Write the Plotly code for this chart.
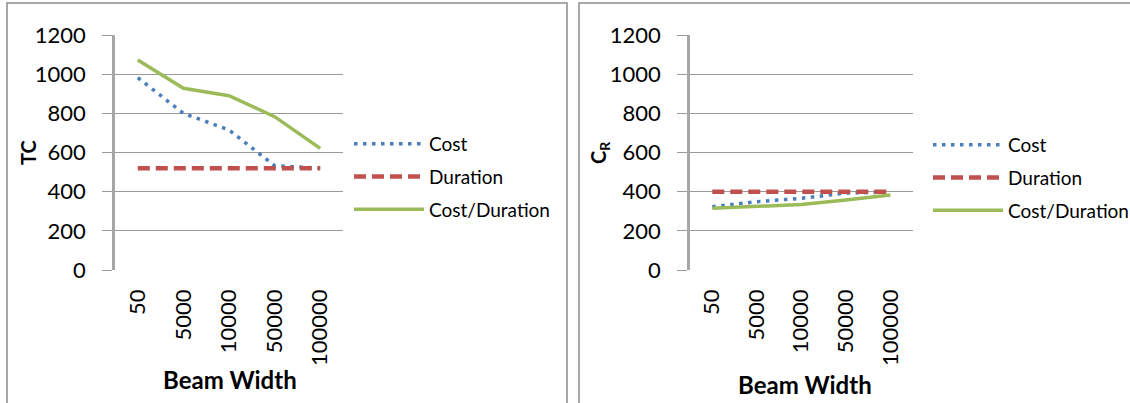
import plotly.graph_objects as go

categories = ["50", "5000", "10000", "50000", "100000"]
series_names = ["Cost", "Duration", "Cost/Duration"]

tc_cost = [982, 800, 715, 533, 520]
tc_duration = [520, 520, 520, 520, 520]
tc_cost_duration = [1072, 928, 890, 783, 621]

cr_cost = [323, 349, 366, 393, 398]
cr_duration = [400, 400, 400, 400, 400]
cr_cost_duration = [315, 327, 335, 357, 383]

y_ticks = [0, 200, 400, 600, 800, 1000, 1200]

W, H = 1130, 403
FONT = "Lato"
colors = ["#4a7ebb", "#c0504d", "#9bbb59"]
dashes = ["3.5px,5.5px", "12px,6px", "solid"]
widths = [3.5, 4.5, 3.5]

fig = go.Figure()

left = [tc_cost, tc_duration, tc_cost_duration]
right = [cr_cost, cr_duration, cr_cost_duration]
for i, (name, vals) in enumerate(zip(series_names, left)):
    fig.add_trace(go.Scatter(x=categories, y=vals, name=name, mode="lines",
                             line=dict(color=colors[i], dash=dashes[i], width=widths[i]),
                             xaxis="x", yaxis="y", legend="legend", legendgroup="L%d" % i))
for i, (name, vals) in enumerate(zip(series_names, right)):
    fig.add_trace(go.Scatter(x=categories, y=vals, name=name, mode="lines",
                             line=dict(color=colors[i], dash=dashes[i], width=widths[i]),
                             xaxis="x2", yaxis="y2", legend="legend2", legendgroup="R%d" % i))

ydom = [(H - 270) / H, (H - 35) / H]
xax = dict(type="category", range=[-0.5, 4.5], showgrid=False, zeroline=False, automargin=False,
           showline=False, ticks="", tickangle=-90, ticklabelstandoff=14,
           tickfont=dict(family=FONT, size=22, color="#000"))
yax = dict(range=[0, 1200], tickvals=y_ticks, showgrid=True, gridcolor="#9a9a9a", automargin=False,
           gridwidth=1, zeroline=False, showline=True, linecolor="#a6a6a6", linewidth=2.5,
           ticks="outside", ticklen=10, tickcolor="#9a9a9a", tickwidth=1,
           ticklabelstandoff=12, tickfont=dict(family=FONT, size=22, color="#000"))

legend_common = dict(font=dict(family=FONT, size=19, color="#000"), bgcolor="rgba(0,0,0,0)",
                     xanchor="left", yanchor="top", tracegroupgap=5, itemwidth=70)

fig.update_layout(
    template="none",
    width=W, height=H,
    margin=dict(l=0, r=0, t=0, b=0, autoexpand=False),
    paper_bgcolor="white", plot_bgcolor="white",
    xaxis=dict(domain=[115 / W, 343 / W], anchor="y", **xax),
    yaxis=dict(domain=ydom, anchor="x", **yax),
    xaxis2=dict(domain=[690 / W, 912.7 / W], anchor="y2", **xax),
    yaxis2=dict(domain=ydom, anchor="x2", **yax),
    legend=dict(x=349 / W, y=(H - 125) / H, **legend_common),
    legend2=dict(x=928 / W, y=(H - 126) / H, **legend_common),
    showlegend=True,
    shapes=[
        dict(type="rect", xref="paper", yref="paper", x0=7 / W, x1=567 / W, y0=-0.05, y1=(H - 3) / H,
             line=dict(color="#8c8c8c", width=1.5)),
        dict(type="rect", xref="paper", yref="paper", x0=579 / W, x1=1.05, y0=-0.05, y1=(H - 3) / H,
             line=dict(color="#8c8c8c", width=1.5)),
    ],
    annotations=[
        dict(text="<b>TC</b>", xref="paper", yref="paper", x=28 / W, y=(H - 153) / H,
             xanchor="center", yanchor="middle",
             textangle=-90, showarrow=False, font=dict(family=FONT, size=20, color="#000")),
        dict(text="<b>C<sub>R</sub></b>", xref="paper", yref="paper", x=599 / W, y=(H - 153) / H,
             xanchor="center", yanchor="middle",
             textangle=-90, showarrow=False, font=dict(family=FONT, size=20, color="#000")),
        dict(text="<b>Beam Width</b>", xref="paper", yref="paper", x=230 / W, y=(H - 379) / H,
             xanchor="center", yanchor="middle",
             showarrow=False, font=dict(family=FONT, size=24, color="#000")),
        dict(text="<b>Beam Width</b>", xref="paper", yref="paper", x=805 / W, y=(H - 384) / H,
             xanchor="center", yanchor="middle",
             showarrow=False, font=dict(family=FONT, size=24, color="#000")),
    ],
)

fig.write_html("out.html", post_script="document.body.style.margin='0';",
               config={"displayModeBar": False})
